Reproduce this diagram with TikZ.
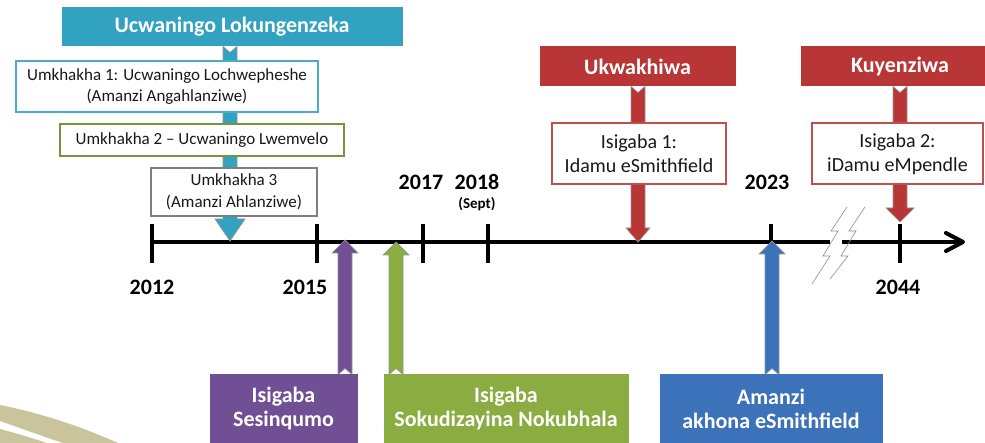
\documentclass[tikz,border=0pt]{standalone}
\usepackage{fontspec}
\setmainfont{Carlito}
\usetikzlibrary{calc,backgrounds}
\definecolor{tealT}{RGB}{49,163,192}
\definecolor{tealB}{RGB}{75,172,198}
\definecolor{greenB}{RGB}{119,147,60}
\definecolor{grayB}{RGB}{127,127,127}
\definecolor{redT}{RGB}{185,54,54}
\definecolor{redB}{RGB}{192,80,77}
\definecolor{purpT}{RGB}{112,79,148}
\definecolor{greenT}{RGB}{138,172,64}
\definecolor{blueT}{RGB}{59,114,185}
\definecolor{beigeC}{RGB}{201,196,155}
\definecolor{edgeG}{RGB}{150,150,150}
\newcommand{\tlBig}{\bfseries\fontsize{22}{24}\selectfont}
\newcommand{\tlReg}{\fontsize{17}{21.5}\selectfont}
\newcommand{\tlMid}{\fontsize{20}{24}\selectfont}
\newcommand{\blockarrow}[5]{%
  \filldraw[fill=#1, draw=edgeG, line width=0.7pt, line join=miter]
    let \p1=(#2), \p2=(#3), \n1={sign(\y2-\y1)} in
    (\x1-7pt,\y1) -- (\x1,{\y1+(\n1)*6pt}) -- (\x1+7pt,\y1)
    -- (\x1+7pt,{\y2-(\n1)*#5}) -- (\x1+#4,{\y2-(\n1)*#5}) -- (\x1,\y2)
    -- (\x1-#4,{\y2-(\n1)*#5}) -- (\x1-7pt,{\y2-(\n1)*#5}) -- cycle;}
\begin{document}
\begin{tikzpicture}[x=1pt,y=-1pt,
  filled/.style={fill=#1, draw=#1, line width=1pt, text=white, font=\tlBig, inner sep=0pt, align=center},
  framed/.style={fill=white, draw=#1, line width=2pt, text=black!90, font=\tlReg, inner sep=0pt, align=center},
  tlTick/.style={line width=4pt},
  yearlbl/.style={font=\tlBig, inner sep=0pt},
  bolt/.style={draw=black!45, line width=0.6pt}]
\useasboundingbox (0,0) rectangle (985,443);

% coordinates on the timeline
\coordinate (tlS) at (152,242);
\coordinate (brkL) at (830,242);
\coordinate (brkR) at (842,242);
\coordinate (tlE) at (963,242);
\coordinate (k2012) at (152,242);
\coordinate (k2015) at (317,242);
\coordinate (k2017) at (423,242);
\coordinate (k2018) at (488,242);
\coordinate (k2023) at (771,242);
\coordinate (k2044) at (900,242);
\coordinate (tip1) at (230,241);
\coordinate (tipUk) at (638,242);
\coordinate (tipKu) at (900,222);
\coordinate (tipP) at (345,240);
\coordinate (tipG) at (396,242);
\coordinate (tipB) at (772,241);

% boxes
\node[filled=tealT, minimum width=340pt, minimum height=38pt] (top) at (232,27) {Ucwaningo Lokungenzeka};
\node[framed=tealB, minimum width=302pt, minimum height=51pt] (u1) at (167,86.5) {Umkhakha 1: Ucwaningo Lochwepheshe\\(Amanzi Angahlanziwe)};
\node[framed=greenB, minimum width=284pt, minimum height=32pt] (u2) at (202,140) {Umkhakha 2 – Ucwaningo Lwemvelo};
\node[framed=grayB, minimum width=166pt, minimum height=48pt] (u3) at (234,192) {Umkhakha 3\\(Amanzi Ahlanziwe)};

\node[filled=redT, minimum width=195pt, minimum height=39pt] (ukw) at (637.5,66.5) {Ukwakhiwa};
\node[framed=redB, font=\tlMid, minimum width=174pt, minimum height=61pt] (is1) at (639,154) {Isigaba 1:\\Idamu eSmithfield};
\node[filled=redT, minimum width=183pt, minimum height=39pt] (kuy) at (892.5,66.5) {\hspace*{15pt}Kuyenziwa};
\node[framed=redB, font=\tlMid, minimum width=171pt, minimum height=61pt] (is2) at (897.5,154) {Isigaba 2:\\iDamu eMpendle};

\node[filled=purpT, minimum width=147pt, minimum height=68pt] (sq) at (283.5,409) {Isigaba\\Sesinqumo};
\node[filled=greenT, minimum width=244pt, minimum height=68pt] (dz) at (506,409) {Isigaba\\Sokudizayina Nokubhala};
\node[filled=blueT, minimum width=222pt, minimum height=68pt] (am) at (771,409) {Amanzi\\akhona eSmithfield};

% year labels
\node[yearlbl] (y2012) at (152,287) {2012};
\node[yearlbl] (y2015) at (305,287) {2015};
\node[yearlbl] (y2017) at (421,182) {2017};
\node[yearlbl] (y2018) at (477,182) {2018};
\node[font=\bfseries\fontsize{15}{17}\selectfont, inner sep=0pt] (sept) at (477,204) {(Sept)};
\node[yearlbl] (y2023) at (767,182) {2023};
\node[yearlbl] (y2044) at (898,287) {2044};

\begin{scope}[on background layer]
  % decorative curves
  \fill[beigeC] (0,405) .. controls (40,413) and (80,426) .. (118,443) -- (63,443) .. controls (42,436) and (20,428) .. (0,421) -- cycle;
  \fill[beigeC] (0,429) .. controls (15,433) and (32,438) .. (47,443) -- (0,443) -- cycle;
  % timeline
  \draw[line width=4.5pt] (tlS) -- (brkL);
  \draw[line width=4.5pt] (brkR) -- (tlE);
  \draw[line width=4pt, line join=round, line cap=round] ($(tlE)+(-17,-9)$) -- (tlE) -- ($(tlE)+(-17,9)$);
  \foreach \k in {k2012,k2015,k2017,k2018,k2023,k2044}
    \draw[tlTick] ($(\k)+(0,-18)$) -- ($(\k)+(0,21)$);
  % break marks
  \draw[bolt] (847,207) -- (831,231) -- (838,231) -- (823,256) -- (830,256) -- (812,284);
  \draw[bolt] (865,207) -- (849,231) -- (856,231) -- (841,256) -- (848,256) -- (830,279);
  % block arrows
  \blockarrow{tealT}{top.south -| tip1}{tip1}{15pt}{22pt}
  \blockarrow{redT}{ukw.south -| tipUk}{tipUk}{12pt}{14pt}
  \blockarrow{redT}{kuy.south -| tipKu}{tipKu}{14pt}{14pt}
  \blockarrow{purpT}{sq.north -| tipP}{tipP}{13pt}{13pt}
  \blockarrow{greenT}{dz.north -| tipG}{tipG}{13pt}{13pt}
  \blockarrow{blueT}{am.north -| tipB}{tipB}{13pt}{13pt}
\end{scope}
\end{tikzpicture}
\end{document}
